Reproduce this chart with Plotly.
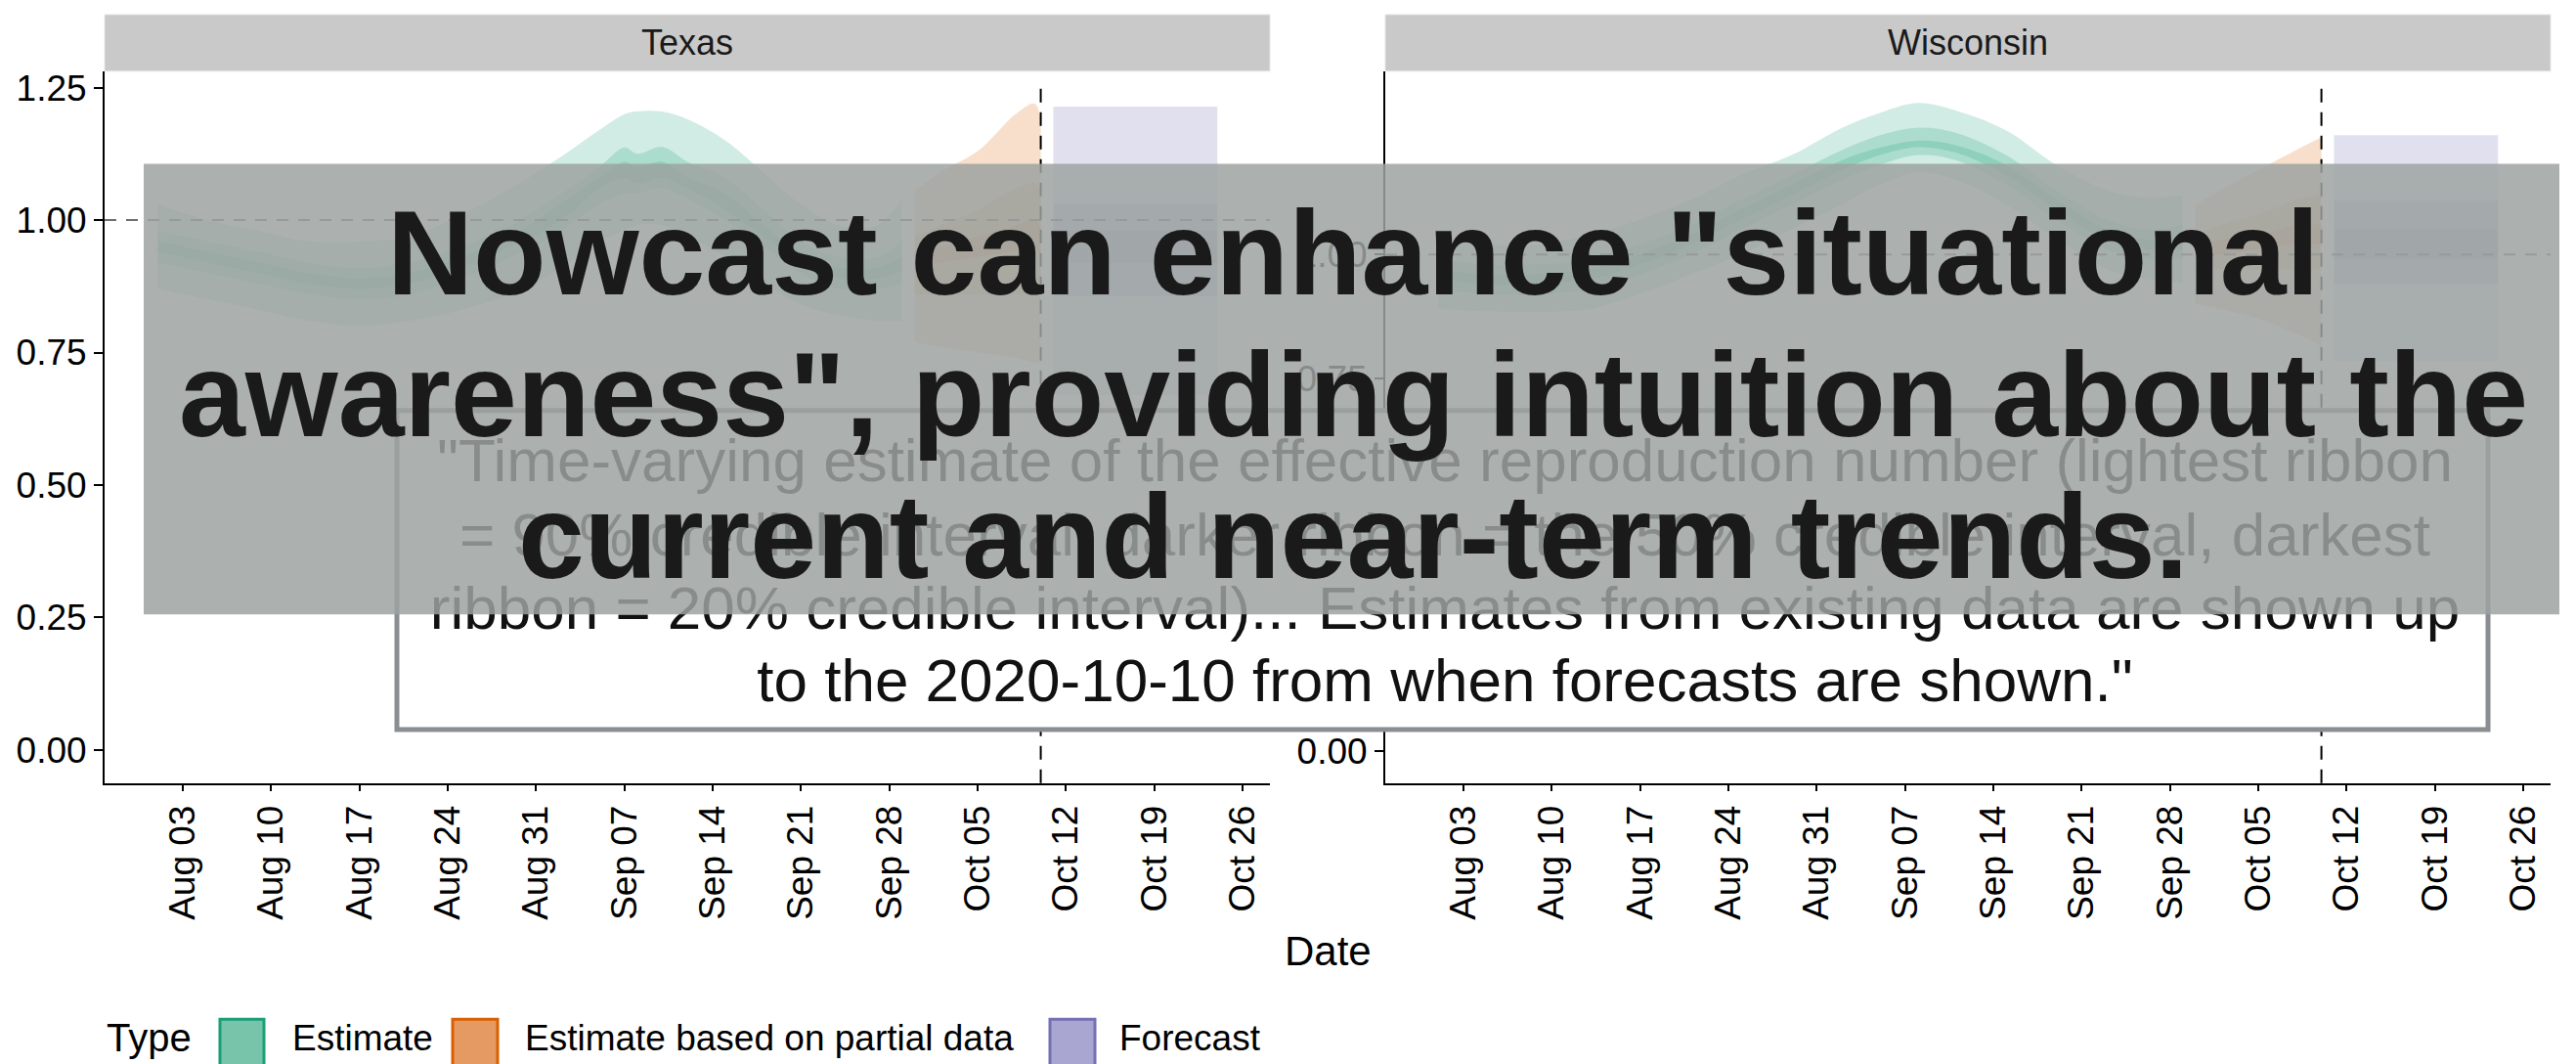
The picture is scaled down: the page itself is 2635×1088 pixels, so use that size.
import plotly.graph_objects as go

W, H = 2635, 1088
FONT = "Liberation Sans, Arial, Helvetica, sans-serif"


def pxx(x):
    return x / W


def pyy(y):
    return 1 - y / H


# ---------------- data ----------------
TICK_DATES = ["2020-08-03", "2020-08-10", "2020-08-17", "2020-08-24", "2020-08-31",
              "2020-09-07", "2020-09-14", "2020-09-21", "2020-09-28", "2020-10-05",
              "2020-10-12", "2020-10-19", "2020-10-26"]
FORECAST_DATE = "2020-10-10"

# Texas - estimate
TX_EST_DATES = ["2020-08-01", "2020-08-05", "2020-08-09", "2020-08-13", "2020-08-17",
                "2020-08-21", "2020-08-25", "2020-08-29", "2020-09-02", "2020-09-05",
                "2020-09-07", "2020-09-08", "2020-09-10", "2020-09-12", "2020-09-15",
                "2020-09-18", "2020-09-21", "2020-09-24", "2020-09-27", "2020-09-29"]
TX_EST_LO90 = [0.87, 0.85, 0.83, 0.81, 0.80, 0.81, 0.83, 0.86, 0.91, 0.96, 0.98, 0.99, 0.99, 0.97, 0.93, 0.88, 0.84, 0.82, 0.81, 0.81]
TX_EST_LO50 = [0.92, 0.90, 0.88, 0.86, 0.85, 0.86, 0.89, 0.93, 0.98, 1.03, 1.05, 1.05, 1.06, 1.04, 1.00, 0.95, 0.90, 0.87, 0.87, 0.88]
TX_EST_LO20 = [0.94, 0.92, 0.90, 0.88, 0.87, 0.88, 0.91, 0.95, 1.00, 1.06, 1.08, 1.07, 1.08, 1.06, 1.02, 0.97, 0.92, 0.89, 0.89, 0.905]
TX_EST_HI20 = [0.96, 0.94, 0.92, 0.90, 0.89, 0.90, 0.93, 0.97, 1.03, 1.08, 1.11, 1.10, 1.11, 1.08, 1.05, 0.99, 0.94, 0.91, 0.91, 0.93]
TX_EST_HI50 = [0.98, 0.96, 0.94, 0.92, 0.91, 0.92, 0.95, 0.99, 1.05, 1.10, 1.137, 1.125, 1.138, 1.11, 1.08, 1.02, 0.96, 0.93, 0.93, 0.96]
TX_EST_HI90 = [1.03, 1.00, 0.98, 0.96, 0.96, 0.97, 1.01, 1.06, 1.12, 1.17, 1.20, 1.205, 1.205, 1.19, 1.15, 1.09, 1.03, 0.99, 0.99, 1.04]

# Texas - estimate based on partial data
TX_PART_DATES = ["2020-09-30", "2020-10-02", "2020-10-05", "2020-10-08", "2020-10-09 12:00", "2020-10-10"]
TX_PART_LO90 = [0.77, 0.76, 0.75, 0.74, 0.73, 0.73]
TX_PART_LO50 = [0.86, 0.86, 0.86, 0.86, 0.86, 0.86]
TX_PART_LO20 = [0.91, 0.92, 0.93, 0.94, 0.94, 0.94]
TX_PART_HI20 = [0.94, 0.95, 0.97, 0.99, 1.00, 0.99]
TX_PART_HI50 = [0.97, 0.99, 1.02, 1.06, 1.07, 1.06]
TX_PART_HI90 = [1.055, 1.09, 1.13, 1.20, 1.22, 1.19]

# Texas - forecast
TX_FC_DATES = ["2020-10-11", "2020-10-24"]
TX_FC_LO90 = [0.67, 0.67]
TX_FC_LO50 = [0.856, 0.856]
TX_FC_LO20 = [0.92, 0.92]
TX_FC_HI20 = [0.98, 0.98]
TX_FC_HI50 = [1.03, 1.03]
TX_FC_HI90 = [1.214, 1.214]

# Wisconsin - estimate
WI_EST_DATES = ["2020-08-01", "2020-08-05", "2020-08-09", "2020-08-13", "2020-08-17",
                "2020-08-21", "2020-08-25", "2020-08-29", "2020-09-02", "2020-09-05",
                "2020-09-08", "2020-09-11", "2020-09-15", "2020-09-19", "2020-09-23",
                "2020-09-26", "2020-09-29"]
WI_EST_LO90 = [0.89, 0.885, 0.884, 0.89, 0.92, 0.96, 1.00, 1.05, 1.10, 1.14, 1.165, 1.15, 1.10, 1.03, 0.97, 0.95, 0.943]
WI_EST_LO50 = [0.93, 0.92, 0.92, 0.93, 0.96, 1.00, 1.05, 1.10, 1.15, 1.18, 1.20, 1.19, 1.14, 1.07, 1.01, 0.99, 0.99]
WI_EST_LO20 = [0.95, 0.94, 0.94, 0.95, 0.98, 1.02, 1.07, 1.12, 1.17, 1.20, 1.216, 1.205, 1.16, 1.09, 1.03, 1.01, 1.01]
WI_EST_HI20 = [0.97, 0.96, 0.96, 0.97, 1.00, 1.04, 1.09, 1.14, 1.19, 1.215, 1.229, 1.22, 1.18, 1.11, 1.05, 1.03, 1.03]
WI_EST_HI50 = [0.99, 0.98, 0.98, 0.99, 1.02, 1.06, 1.11, 1.16, 1.21, 1.24, 1.255, 1.245, 1.20, 1.13, 1.07, 1.05, 1.06]
WI_EST_HI90 = [1.03, 1.02, 1.02, 1.04, 1.07, 1.11, 1.16, 1.20, 1.255, 1.285, 1.305, 1.29, 1.25, 1.18, 1.13, 1.115, 1.12]

# Wisconsin - estimate based on partial data
WI_PART_DATES = ["2020-09-30", "2020-10-02", "2020-10-05", "2020-10-08", "2020-10-10"]
WI_PART_LO90 = [0.90, 0.89, 0.87, 0.84, 0.815]
WI_PART_LO50 = [0.97, 0.97, 0.97, 0.97, 0.97]
WI_PART_LO20 = [1.00, 1.00, 1.01, 1.02, 1.02]
WI_PART_HI20 = [1.02, 1.03, 1.04, 1.06, 1.06]
WI_PART_HI50 = [1.04, 1.06, 1.08, 1.11, 1.12]
WI_PART_HI90 = [1.10, 1.13, 1.17, 1.21, 1.236]

# Wisconsin - forecast
WI_FC_DATES = ["2020-10-11", "2020-10-24"]
WI_FC_LO90 = [0.786, 0.786]
WI_FC_LO50 = [0.94, 0.94]
WI_FC_LO20 = [0.99, 0.99]
WI_FC_HI20 = [1.05, 1.05]
WI_FC_HI50 = [1.108, 1.108]
WI_FC_HI90 = [1.24, 1.24]

PANELS = ["Texas", "Wisconsin"]
TYPES = ["Estimate", "Estimate based on partial data", "Forecast"]
TX_YTICKS = [0.0, 0.25, 0.5, 0.75, 1.0, 1.25]
WI_YTICKS = [0.0, 0.25, 0.5, 0.75, 1.0]

TITLE_LINES = ['Nowcast can enhance "situational',
               'awareness", providing intuition about the',
               'current and near-term trends.']
CAPTION_LINES = ['"Time-varying estimate of the effective reproduction number (lightest ribbon',
                 '= 90% credible interval; darker ribbon = the 50% credible interval, darkest',
                 'ribbon = 20% credible interval)... Estimates from existing data are shown up',
                 'to the 2020-10-10 from when forecasts are shown."']

# ---------------- style ----------------
FILLS = {"Estimate": "rgba(27,158,119,0.2)",
         "Estimate based on partial data": "rgba(217,95,2,0.2)",
         "Forecast": "rgba(117,112,179,0.22)"}
KEY_FILL = {"Estimate": "#77c4aa", "Estimate based on partial data": "#e59a63", "Forecast": "#aaa6d2"}
KEY_LINE = {"Estimate": "#1b9e77", "Estimate based on partial data": "#d95f02", "Forecast": "#7570b3"}

fig = go.Figure()


def add_ribbon(dates, lo, hi, color, xa, ya, shape):
    fig.add_trace(go.Scatter(x=dates, y=lo, mode="lines", line=dict(width=0, shape=shape),
                             xaxis=xa, yaxis=ya, showlegend=False, hoverinfo="skip"))
    fig.add_trace(go.Scatter(x=dates, y=hi, mode="lines", line=dict(width=0, shape=shape),
                             fill="tonexty", fillcolor=color, xaxis=xa, yaxis=ya,
                             showlegend=False, hoverinfo="skip"))


series = {
    ("x", "y"): [
        ("Estimate", TX_EST_DATES, [(TX_EST_LO90, TX_EST_HI90), (TX_EST_LO50, TX_EST_HI50), (TX_EST_LO20, TX_EST_HI20)], "spline"),
        ("Estimate based on partial data", TX_PART_DATES, [(TX_PART_LO90, TX_PART_HI90), (TX_PART_LO50, TX_PART_HI50), (TX_PART_LO20, TX_PART_HI20)], "spline"),
        ("Forecast", TX_FC_DATES, [(TX_FC_LO90, TX_FC_HI90), (TX_FC_LO50, TX_FC_HI50), (TX_FC_LO20, TX_FC_HI20)], "linear"),
    ],
    ("x2", "y2"): [
        ("Estimate", WI_EST_DATES, [(WI_EST_LO90, WI_EST_HI90), (WI_EST_LO50, WI_EST_HI50), (WI_EST_LO20, WI_EST_HI20)], "spline"),
        ("Estimate based on partial data", WI_PART_DATES, [(WI_PART_LO90, WI_PART_HI90), (WI_PART_LO50, WI_PART_HI50), (WI_PART_LO20, WI_PART_HI20)], "spline"),
        ("Forecast", WI_FC_DATES, [(WI_FC_LO90, WI_FC_HI90), (WI_FC_LO50, WI_FC_HI50), (WI_FC_LO20, WI_FC_HI20)], "linear"),
    ],
}
for (xa, ya), items in series.items():
    for typ, dates, bands, shape in items:
        for lo, hi in bands:
            add_ribbon(dates, lo, hi, FILLS[typ], xa, ya, shape)

XRANGE = ["2020-07-27 19:00", "2020-10-28 04:00"]
common_x = dict(type="date", range=XRANGE, tickvals=TICK_DATES, tickformat="%b %d",
                tickangle=-90, ticks="outside", ticklen=6, tickwidth=2, tickcolor="black",
                showline=True, linecolor="black", linewidth=2, showgrid=False, zeroline=False,
                tickfont=dict(family=FONT, size=37, color="black"), fixedrange=True)
common_y = dict(ticks="outside", ticklen=9, tickwidth=2, tickcolor="black",
                showline=True, linecolor="black", linewidth=2, showgrid=False, zeroline=False,
                tickfont=dict(family=FONT, size=37, color="black"), fixedrange=True)

ydom = [pyy(800), pyy(70)]
fig.update_layout(
    width=W, height=H, autosize=False,
    margin=dict(l=0, r=0, t=0, b=0),
    paper_bgcolor="white", plot_bgcolor="white",
    showlegend=False,
    xaxis=dict(domain=[pxx(107), pxx(1299)], anchor="y", **common_x),
    yaxis=dict(domain=ydom, anchor="x", range=[-0.0626, 1.281], tickvals=TX_YTICKS,
               ticktext=[f"{v:.2f}" for v in TX_YTICKS], **common_y),
    xaxis2=dict(domain=[pxx(1417), pxx(2609)], anchor="y2", **common_x),
    yaxis2=dict(domain=ydom, anchor="x2", range=[-0.065, 1.369], tickvals=WI_YTICKS,
                ticktext=[f"{v:.2f}" for v in WI_YTICKS], **common_y),
)

shapes = []
annotations = []

# reference lines and strips per panel
for xa, ya, name in [("x", "y", PANELS[0]), ("x2", "y2", PANELS[1])]:
    shapes.append(dict(type="line", xref=f"{xa} domain", yref=ya, x0=0, x1=1, y0=1, y1=1,
                       line=dict(color="#6e6e6e", width=2, dash="12px,10px"), layer="above"))
    shapes.append(dict(type="line", xref=xa, yref=f"{ya} domain", x0=FORECAST_DATE, x1=FORECAST_DATE,
                       y0=0, y1=0.985, line=dict(color="black", width=2, dash="14px,10px"), layer="above"))
    shapes.append(dict(type="rect", xref=f"{xa} domain", yref="paper", x0=0, x1=1,
                       y0=pyy(70), y1=pyy(12), fillcolor="#c9c9c9",
                       line=dict(color="#e6e6e6", width=1), layer="above"))
    annotations.append(dict(xref=f"{xa} domain", yref="paper", x=0.5, y=pyy(41), text=name,
                            showarrow=False, xanchor="center", yanchor="middle",
                            font=dict(family=FONT, size=36, color="#1a1a1a")))

# caption box (beneath the banner)
shapes.append(dict(type="rect", xref="paper", yref="paper", x0=pxx(406), x1=pxx(2545),
                   y0=pyy(745), y1=pyy(418), fillcolor="white",
                   line=dict(color="#8a8e92", width=5), layer="above"))
cap_centers = [463, 539, 614, 688]
for txt, cy in zip(CAPTION_LINES, cap_centers):
    shapes.append(dict(type="rect", xref="paper", yref="paper", x0=pxx(430), x1=pxx(2526),
                       y0=pyy(cy + 35), y1=pyy(cy - 35), fillcolor="rgba(0,0,0,0)",
                       line=dict(width=0), layer="above",
                       label=dict(text=txt, textposition="middle center",
                                  font=dict(family=FONT, size=62, color="#111111"))))

# translucent banner
shapes.append(dict(type="rect", xref="paper", yref="paper", x0=pxx(147), x1=pxx(2618),
                   y0=pyy(627), y1=pyy(165), fillcolor="rgba(158,163,161,0.85)",
                   line=dict(width=0), layer="above"))

for txt, cy in zip(TITLE_LINES, [257, 402, 548]):
    annotations.append(dict(xref="paper", yref="paper", x=pxx(1384), y=pyy(cy), text=f"<b>{txt}</b>",
                            showarrow=False, xanchor="center", yanchor="middle",
                            font=dict(family=FONT, size=122, color="#1a1a1a")))

# axis title
annotations.append(dict(xref="paper", yref="paper", x=pxx(1358), y=pyy(972), text="Date",
                        showarrow=False, xanchor="center", yanchor="middle",
                        font=dict(family=FONT, size=42, color="black")))

# legend
annotations.append(dict(xref="paper", yref="paper", x=pxx(107), y=pyy(1061), text="Type",
                        showarrow=False, xanchor="left", yanchor="middle",
                        font=dict(family=FONT, size=40, color="black")))
key_x = [(225, 270, 297), (463, 509, 535), (1074, 1120, 1143)]
for typ, (k0, k1, tx) in zip(TYPES, key_x):
    shapes.append(dict(type="rect", xref="paper", yref="paper", x0=pxx(k0), x1=pxx(k1),
                       y0=pyy(1095), y1=pyy(1042), fillcolor=KEY_FILL[typ],
                       line=dict(color=KEY_LINE[typ], width=3), layer="above"))
    annotations.append(dict(xref="paper", yref="paper", x=pxx(tx), y=pyy(1061), text=typ,
                            showarrow=False, xanchor="left", yanchor="middle",
                            font=dict(family=FONT, size=37, color="black")))

fig.update_layout(shapes=shapes, annotations=annotations)
fig.write_html("out.html", config={"displayModeBar": False},
               post_script="document.body.style.margin='0px';document.body.style.overflow='hidden';")
